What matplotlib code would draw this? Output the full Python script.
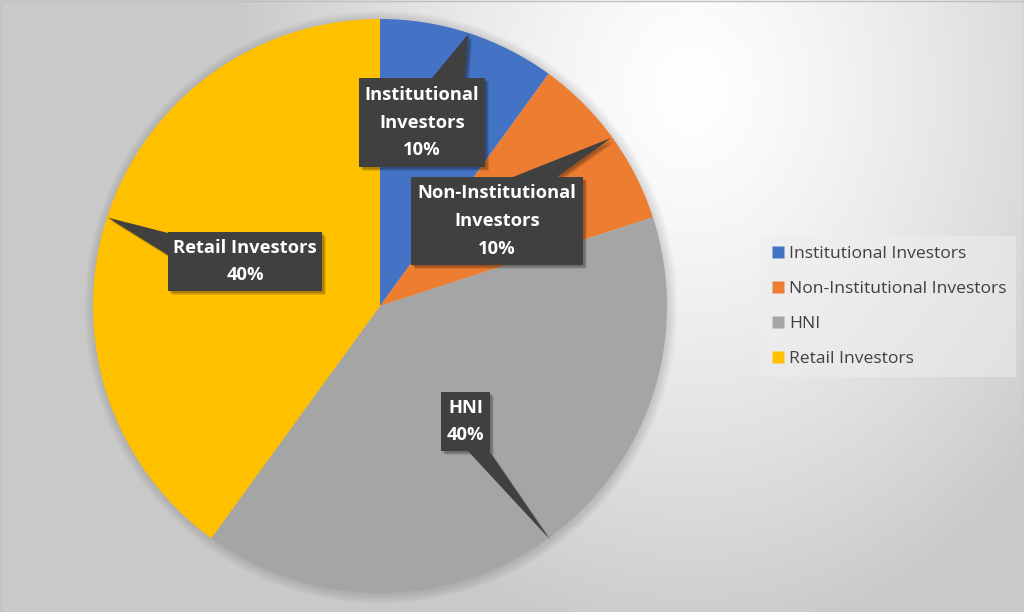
import numpy as np
import matplotlib
matplotlib.use("Agg")
import matplotlib.pyplot as plt
from matplotlib.patches import Polygon, Circle
from matplotlib.lines import Line2D

categories = ["Institutional Investors", "Non-Institutional Investors", "HNI", "Retail Investors"]
label_names = ["Institutional\nInvestors", "Non-Institutional\nInvestors", "HNI", "Retail Investors"]
shares = [10, 10, 40, 40]
colors = ["#4472C4", "#ED7D31", "#A5A5A5", "#FFC000"]

W, H = 1024, 612
fig = plt.figure(figsize=(W / 100, H / 100), dpi=100)
ax = fig.add_axes([0, 0, 1, 1])

def Y(py):
    return H - py

# background gradient
xx, yy = np.meshgrid(np.arange(W), np.arange(H))
r = np.sqrt(((xx - 690) / 460.0) ** 2 + ((yy - 90) / 560.0) ** 2)
v = 1.0 - 0.21 * np.clip(r, 0, 1) ** 1.3
bg = np.dstack([v, v, v])
ax.imshow(bg, extent=(0, W, 0, H), origin="upper", zorder=0)

cx, cy, R = 380, Y(306), 287

# soft pie shadow
for i in range(8):
    ax.add_patch(Circle((cx + 1, cy - 1), R + 1 + i * 1.2, facecolor="black",
                        edgecolor="none", alpha=0.015, zorder=1))

wedges, _ = ax.pie(shares, colors=colors, startangle=90, counterclock=False,
                   center=(cx, cy), radius=R, wedgeprops=dict(linewidth=0))
for w in wedges:
    w.set_zorder(2)

# label boxes: (left, top, right, bottom) in pixels, and pointer base spec
boxes = [
    (359, 78, 485, 167),
    (411, 177, 583, 265),
    (441, 392, 490, 451),
    (168, 232, 322, 291),
]
bases = [
    ("top", 432, 465),
    ("top", 513, 557),
    ("bottom", 468, 489),
    ("left", 233, 255),
]

for w, name, share, box, base in zip(wedges, label_names, shares, boxes, bases):
    mid = np.deg2rad((w.theta1 + w.theta2) / 2.0)
    tx, ty = cx + R * 0.997 * np.cos(mid), cy + R * 0.997 * np.sin(mid)
    l, t, rr, b = box
    side, a1, a2 = base
    L, T, Rr, B = l, Y(t), rr, Y(b)
    if side == "top":
        pts = [(L, B), (L, T), (a1, T), (tx, ty), (a2, T), (Rr, T), (Rr, B)]
    elif side == "bottom":
        pts = [(L, T), (Rr, T), (Rr, B), (a2, B), (tx, ty), (a1, B), (L, B)]
    else:  # left
        pts = [(Rr, T), (Rr, B), (L, B), (L, Y(a2)), (tx, ty), (L, Y(a1)), (L, T)]
    for k, al in ((4, 0.10), (3, 0.12), (2, 0.14)):
        sh = [(px + k, py - k) for px, py in pts]
        ax.add_patch(Polygon(sh, closed=True, facecolor="black", edgecolor="none",
                             alpha=al, zorder=3))
    ax.add_patch(Polygon(pts, closed=True, facecolor="#404040", edgecolor="none",
                         zorder=4))
    ax.text((L + Rr) / 2, (T + B) / 2, f"{name}\n{share}%", ha="center", va="center",
            color="white", fontsize=13.2, fontweight="bold", family="Open Sans",
            linespacing=1.68, zorder=5)

# legend
handles = [Line2D([], [], linestyle="none", marker="s", markersize=8,
                  markerfacecolor=c, markeredgecolor="none") for c in colors]
leg = ax.legend(handles, categories, loc="upper left",
                bbox_to_anchor=(761 / W, 1 - 236 / H), bbox_transform=fig.transFigure,
                frameon=True, fancybox=False, handlelength=0.8, handletextpad=0.24,
                labelspacing=1.08, borderpad=0.55, borderaxespad=0,
                prop=dict(family="Open Sans", size=12.6))
leg.get_frame().set_facecolor("#eeeeee")
leg.get_frame().set_alpha(0.55)
leg.get_frame().set_edgecolor("none")
for txt in leg.get_texts():
    txt.set_color("#404040")

ax.set_xlim(0, W)
ax.set_ylim(0, H)
ax.axis("off")

ax.add_patch(plt.Rectangle((0.5, 0.5), W - 1, H - 1, fill=False, edgecolor="#bfbfbf",
                           linewidth=1, zorder=6))

fig.savefig("out.png", dpi=100)
